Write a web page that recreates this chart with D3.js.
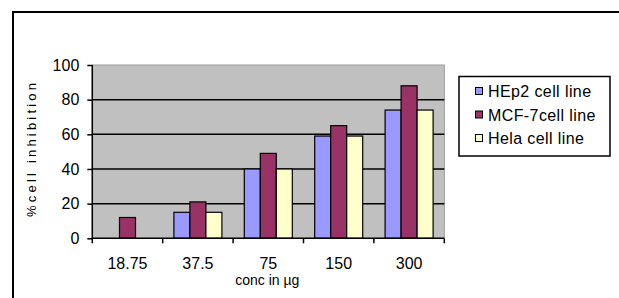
<!DOCTYPE html>
<html>
<head>
<meta charset="utf-8">
<script src="https://cdn.jsdelivr.net/npm/d3@7"></script>
<style>
  html, body { margin: 0; padding: 0; background: #fff; }
  svg { display: block; }
  text { font-family: Arial, "Liberation Sans", sans-serif; fill: #000; }
</style>
</head>
<body>
<svg id="chart" width="619" height="298"></svg>
<script>
const categories = ["18.75", "37.5", "75", "150", "300"];
const seriesNames = ["HEp2 cell line", "MCF-7cell line", "Hela cell line"];
const hep2 = [0, 15, 40, 59, 74];
const mcf7 = [12, 21, 49, 65, 88];
const hela = [0, 15, 40, 59, 74];
const yTicks = [0, 20, 40, 60, 80, 100];
const colors = ["#9999FF", "#993366", "#FFFFCC"];
const xTitle = "conc in µg";
const yTitle = "%cell inhibition";

const seriesValues = [hep2, mcf7, hela];
const data = categories.map((c, i) => ({
  cat: c,
  vals: seriesNames.map((s, j) => ({ key: s, value: seriesValues[j][i], color: colors[j] }))
}));

const svg = d3.select("#chart");
const plot = { left: 92.3, right: 444.3, top: 65, bottom: 238.3 };

// outer frame
svg.append("rect").attr("x", 13).attr("y", 12).attr("width", 640).attr("height", 320)
  .attr("fill", "none").attr("stroke", "#000").attr("stroke-width", 2);

const x = d3.scaleBand().domain(categories).range([plot.left, plot.right])
  .paddingInner(0.318).paddingOuter(0.159);
const xs = d3.scaleBand().domain(seriesNames).range([0, x.bandwidth()]).padding(0);
const y = d3.scaleLinear().domain([0, 100]).range([plot.bottom, plot.top]);

// plot background
svg.append("rect").attr("x", plot.left).attr("y", plot.top)
  .attr("width", plot.right - plot.left).attr("height", plot.bottom - plot.top)
  .attr("fill", "#C0C0C0").attr("stroke", "#999").attr("stroke-width", 1);

// gridlines
svg.append("g").selectAll("line").data(yTicks.filter(t => t > 0 && t < 100)).join("line")
  .attr("x1", plot.left).attr("x2", plot.right)
  .attr("y1", d => y(d)).attr("y2", d => y(d))
  .attr("stroke", "#000").attr("stroke-width", 1.5);

// bars
const groups = svg.append("g").selectAll("g").data(data).join("g")
  .attr("transform", d => `translate(${x(d.cat)},0)`);
groups.selectAll("rect").data(d => d.vals.filter(v => v.value > 0)).join("rect")
  .attr("x", v => xs(v.key)).attr("width", xs.bandwidth())
  .attr("y", v => y(v.value)).attr("height", v => y(0) - y(v.value))
  .attr("fill", v => v.color).attr("stroke", "#000").attr("stroke-width", 1.2);

// y axis
const yAxis = d3.axisLeft(y).tickValues(yTicks).tickSize(5).tickPadding(8);
const yg = svg.append("g").attr("transform", `translate(${plot.left},0)`).call(yAxis);
yg.select(".domain").attr("stroke", "#000").attr("stroke-width", 1.5).attr("d", `M0,${plot.top}V${plot.bottom}`);
yg.selectAll(".tick line").attr("stroke", "#000").attr("stroke-width", 1.5);
yg.selectAll(".tick text").attr("font-size", 16).attr("font-family", "Arial, 'Liberation Sans', sans-serif").attr("fill", "#000");

// x axis
const edges = categories.map(c => x(c) - x.step() * x.paddingOuter()).concat([plot.right]);
const xg = svg.append("g");
xg.append("line").attr("x1", plot.left).attr("x2", plot.right).attr("y1", plot.bottom).attr("y2", plot.bottom)
  .attr("stroke", "#000").attr("stroke-width", 1.5);
xg.selectAll("line.tk").data(edges).join("line").attr("class", "tk")
  .attr("x1", d => d).attr("x2", d => d).attr("y1", plot.bottom).attr("y2", plot.bottom + 5)
  .attr("stroke", "#000").attr("stroke-width", 1.5);
xg.selectAll("text").data(categories).join("text")
  .attr("x", d => x(d) + x.bandwidth() / 2).attr("y", 269)
  .attr("text-anchor", "middle").attr("font-size", 16).text(d => d);

// axis titles
svg.append("text").attr("x", (plot.left + plot.right) / 2 - 1).attr("y", 285)
  .attr("text-anchor", "middle").attr("font-size", 14).text(xTitle);
svg.append("text").attr("transform", "translate(36,150) rotate(-90)")
  .attr("text-anchor", "middle").attr("font-size", 13)
  .attr("textLength", 134).attr("lengthAdjust", "spacing").text(yTitle);

// legend
const lg = svg.append("g");
lg.append("rect").attr("x", 459).attr("y", 76.5).attr("width", 151).attr("height", 79.5)
  .attr("fill", "#fff").attr("stroke", "#000").attr("stroke-width", 1.5);
const rows = lg.selectAll("g").data(seriesNames).join("g")
  .attr("transform", (d, i) => `translate(0,${91 + i * 23.5})`);
rows.append("rect").attr("x", 475.5).attr("y", -3.5).attr("width", 7).attr("height", 7)
  .attr("fill", (d, i) => colors[i]).attr("stroke", "#000").attr("stroke-width", 1);
rows.append("text").attr("x", 488).attr("y", 6).attr("font-size", 16)
  .attr("letter-spacing", 0.4).text(d => d);
</script>
</body>
</html>
